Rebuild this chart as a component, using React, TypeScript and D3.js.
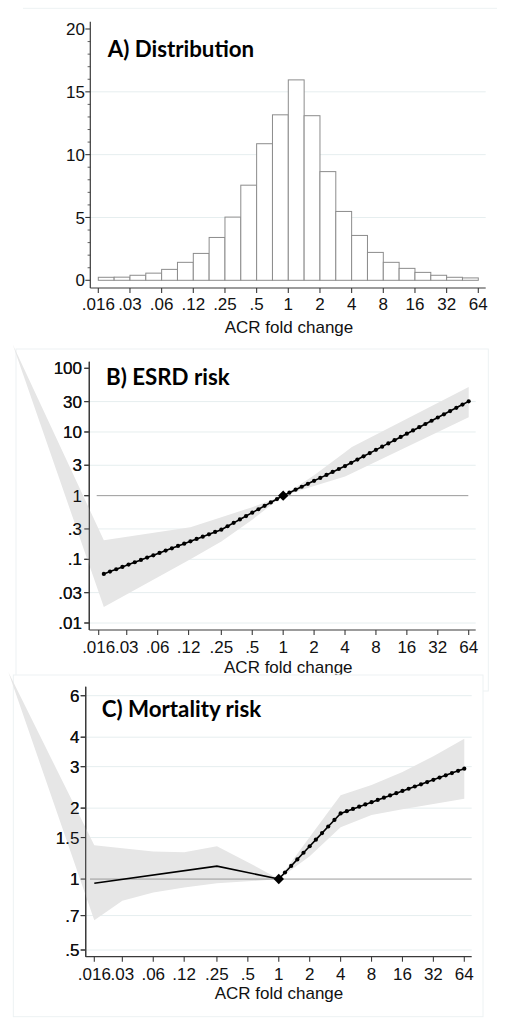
import React from "react";
import * as d3 from "d3";

// ---------- shared axis labels ----------
const xTickLabels = [".016", ".03", ".06", ".12", ".25", ".5", "1", "2", "4", "8", "16", "32", "64"];
const xTicksPow2 = [1 / 64, 1 / 32, 1 / 16, 1 / 8, 1 / 4, 1 / 2, 1, 2, 4, 8, 16, 32, 64];
const xTicksDec = [0.016, 0.03, 0.06, 0.12, 0.25, 0.5, 1, 2, 4, 8, 16, 32, 64];

// ---------- Panel A: distribution ----------
const binEdgesLog2 = [-6, -5.5, -5, -4.5, -4, -3.5, -3, -2.5, -2, -1.5, -1, -0.5, 0, 0.5, 1, 1.5, 2, 2.5, 3, 3.5, 4, 4.5, 5, 5.5, 6];
const distPct = [0.24, 0.25, 0.4, 0.57, 0.87, 1.43, 2.14, 3.41, 5.03, 7.57, 10.87, 13.17, 15.95, 13.1, 8.65, 5.48, 3.57, 2.22, 1.43, 0.95, 0.63, 0.4, 0.24, 0.19];
const yTicksA = [0, 5, 10, 15, 20];
const yLabelsA = ["0", "5", "10", "15", "20"];

// ---------- Panel B: ESRD risk ----------
const yTicksB = [0.01, 0.03, 0.1, 0.3, 1, 3, 10, 30, 100];
const yLabelsB = [".01", ".03", ".1", ".3", "1", "3", "10", "30", "100"];
const esrdX = [
  0.01795, 0.02062, 0.02368, 0.0272, 0.03125, 0.0359, 0.04123, 0.04737, 0.05441, 0.0625,
  0.0718, 0.0825, 0.0947, 0.1088, 0.125, 0.1436, 0.1649, 0.1895, 0.2176, 0.25,
  0.2872, 0.3299, 0.3789, 0.4353, 0.5, 0.5743, 0.6598, 0.7579, 0.8706, 1,
  1.149, 1.32, 1.516, 1.741, 2, 2.297, 2.639, 3.031, 3.482, 4,
  4.595, 5.278, 6.063, 6.964, 8, 9.19, 10.56, 12.13, 13.93, 16,
  18.38, 21.11, 24.25, 27.86, 32, 36.76, 42.22, 48.5, 55.72, 64,
];
const esrdHR = [
  0.059, 0.0641, 0.0698, 0.0759, 0.0826, 0.0899, 0.0978, 0.1064, 0.1157, 0.1259,
  0.137, 0.149, 0.1622, 0.1764, 0.1919, 0.2088, 0.2272, 0.2471, 0.2689, 0.2924,
  0.3307, 0.3739, 0.4228, 0.4781, 0.5408, 0.6115, 0.6915, 0.7819, 0.8842, 1,
  1.113, 1.239, 1.379, 1.535, 1.708, 1.901, 2.116, 2.355, 2.621, 2.917,
  3.281, 3.687, 4.145, 4.659, 5.236, 5.886, 6.616, 7.436, 8.36, 9.397,
  10.56, 11.88, 13.35, 15.01, 16.87, 18.96, 21.31, 23.95, 26.93, 30.27,
];
const esrdCiX = [0.00233, 0.01795, 0.125, 0.25, 0.5, 1, 2, 4, 4.67, 64];
const esrdCiLo = [237, 0.0178, 0.1, 0.19, 0.42, 1, 1.42, 2.0, 2.25, 17.1];
const esrdCiHi = [237, 0.2, 0.318, 0.456, 0.66, 1, 2.1, 4.82, 5.8, 50.7];

// ---------- Panel C: mortality risk ----------
const yTicksC = [0.5, 0.7, 1, 1.5, 2, 3, 4, 6];
const yLabelsC = [".5", ".7", "1", "1.5", "2", "3", "4", "6"];
const mortLowX = [0.016, 0.25, 1];
const mortLowHR = [0.96, 1.135, 1];
const mortX = [
  1, 1.149, 1.32, 1.516, 1.741, 2, 2.297, 2.639, 3.031, 3.482, 4,
  4.595, 5.278, 6.063, 6.964, 8, 9.19, 10.56, 12.13, 13.93, 16,
  18.38, 21.11, 24.25, 27.86, 32, 36.76, 42.22, 48.5, 55.72, 64,
];
const mortHR = [
  1, 1.066, 1.137, 1.212, 1.293, 1.378, 1.47, 1.567, 1.671, 1.782, 1.9,
  1.942, 1.985, 2.029, 2.074, 2.12, 2.167, 2.215, 2.264, 2.314, 2.365,
  2.417, 2.471, 2.525, 2.581, 2.638, 2.697, 2.756, 2.817, 2.88, 2.94,
];
const mortCiX = [0.00233, 0.016, 0.03, 0.06, 0.12, 0.25, 0.5, 1, 2, 4, 8, 16, 32, 64];
const mortCiLo = [7.56, 0.668, 0.81, 0.878, 0.922, 0.959, 0.978, 1, 1.25, 1.66, 1.87, 1.98, 2.08, 2.19];
const mortCiHi = [7.56, 1.39, 1.35, 1.31, 1.3, 1.377, 1.18, 1, 1.51, 2.27, 2.51, 2.85, 3.32, 3.94];

// ---------- styles ----------
const FONT = "'Liberation Sans', Arial, sans-serif";
const TITLE_FONT = "Lato, 'Open Sans', sans-serif";
const AXIS = "#3a3a3a";
const GRID = "#e6eeef";
const FRAME = "#edf2f3";
const CI = "#e6e6e6";
const REF = "#9a9a9a";

type Scale = (v: number) => number;

function YAxis({ scale, ticks, labels, x, y0, y1, labelRight, grid, gridX1, skipGrid }: {
  scale: Scale; ticks: number[]; labels: string[]; x: number; y0: number; y1: number;
  labelRight: number; grid?: boolean; gridX1?: number; skipGrid?: number[];
}) {
  return (
    <g>
      {grid &&
        ticks
          .filter((t) => !(skipGrid || []).includes(t))
          .map((t, i) => (
            <line key={"g" + i} x1={x} x2={gridX1} y1={scale(t)} y2={scale(t)} stroke={GRID} strokeWidth={1} />
          ))}
      <line x1={x} x2={x} y1={y0} y2={y1} stroke={AXIS} strokeWidth={1.2} />
      {ticks.map((t, i) => (
        <g key={i}>
          <line x1={x - 5} x2={x} y1={scale(t)} y2={scale(t)} stroke={AXIS} strokeWidth={1.1} />
          <text x={labelRight} y={scale(t)} dy="0.36em" textAnchor="end" fontFamily={FONT} fontSize={17} fill="#111">
            {labels[i]}
          </text>
        </g>
      ))}
    </g>
  );
}

function XAxis({ scale, ticks, y, x0, x1, labelY, titleX, titleY }: {
  scale: Scale; ticks: number[]; y: number; x0: number; x1: number; labelY: number; titleX: number; titleY: number;
}) {
  return (
    <g>
      <line x1={x0} x2={x1} y1={y} y2={y} stroke={AXIS} strokeWidth={1.2} />
      {ticks.map((t, i) => (
        <g key={i}>
          <line x1={scale(t)} x2={scale(t)} y1={y} y2={y + 5} stroke={AXIS} strokeWidth={1.1} />
          <text x={scale(t)} y={labelY} textAnchor="middle" fontFamily={FONT} fontSize={17} fill="#111">
            {xTickLabels[i]}
          </text>
        </g>
      ))}
      <text x={titleX} y={titleY} textAnchor="middle" fontFamily={FONT} fontSize={17} fill="#111">
        ACR fold change
      </text>
    </g>
  );
}

function Diamond({ cx, cy }: { cx: number; cy: number }) {
  const r = 5.2;
  return <path d={`M${cx},${cy - r}L${cx + r},${cy}L${cx},${cy + r}L${cx - r},${cy}Z`} fill="#000" />;
}

export default function App() {
  // ---- Panel A ----
  const xA = d3.scaleLog().base(2).domain([1 / 64, 64]).range([98.3, 478.3]);
  const yA = d3.scaleLinear().domain([0, 20]).range([280.3, 29]);
  const minorA = d3.range(0, 21).filter((v) => v % 5 !== 0);

  // ---- Panel B ----
  const xB = d3.scaleLog().domain([0.016, 64]).range([98.7, 468.7]);
  const yB = d3.scaleLog().domain([0.01, 100]).range([623, 368.3]);
  const bandB = d3
    .area<number>()
    .x((_, i) => xB(esrdCiX[i]))
    .y0((_, i) => yB(esrdCiLo[i]))
    .y1((_, i) => yB(esrdCiHi[i]));
  const lineB = d3
    .line<number>()
    .x((_, i) => xB(esrdX[i]))
    .y((d) => yB(d));

  // ---- Panel C ----
  const xC = d3.scaleLog().domain([0.016, 64]).range([94.3, 464.3]);
  const yC = d3.scaleLog().domain([0.5, 6]).range([950, 695.7]);
  const bandC = d3
    .area<number>()
    .x((_, i) => xC(mortCiX[i]))
    .y0((_, i) => yC(mortCiLo[i]))
    .y1((_, i) => yC(mortCiHi[i]));
  const lineCLow = d3
    .line<number>()
    .x((_, i) => xC(mortLowX[i]))
    .y((d) => yC(d));
  const lineC = d3
    .line<number>()
    .x((_, i) => xC(mortX[i]))
    .y((d) => yC(d));

  return (
    <svg width={507} height={1027} style={{ position: "absolute", left: 0, top: 0, background: "#fff" }}>
      <rect x={0} y={0} width={507} height={1027} fill="#fff" />

      {/* ================= Panel A ================= */}
      <line x1={23} x2={497} y1={8.3} y2={8.3} stroke={FRAME} strokeWidth={1} />
      <YAxis scale={yA} ticks={yTicksA} labels={yLabelsA} x={90.3} y0={21.7} y1={288} labelRight={85}
        grid gridX1={485.7} skipGrid={[0, 20]} />
      {minorA.map((v) => (
        <line key={v} x1={87.6} x2={90.3} y1={yA(v)} y2={yA(v)} stroke={AXIS} strokeWidth={0.8} />
      ))}
      {distPct.map((v, i) => {
        const x0 = xA(2 ** binEdgesLog2[i]);
        const x1 = xA(2 ** binEdgesLog2[i + 1]);
        return (
          <rect key={i} x={x0} y={yA(v)} width={x1 - x0} height={yA(0) - yA(v)} fill="#fff" stroke="#8c8c8c" strokeWidth={1} />
        );
      })}
      <XAxis scale={xA} ticks={xTicksPow2} y={288} x0={90.3} x1={485.7} labelY={310} titleX={289} titleY={333} />
      <text x={107.7} y={57.3} fontFamily={TITLE_FONT} fontWeight={700} fontSize={22.3} fill="#000">
        A) Distribution
      </text>

      {/* ================= Panel B ================= */}
      <rect x={16} y={349} width={472.3} height={342} fill="#fff" stroke={FRAME} strokeWidth={1} />
      <YAxis scale={yB} ticks={yTicksB} labels={yLabelsB} x={89.3} y0={361.7} y1={630} labelRight={82}
        grid gridX1={475.7} skipGrid={[1, 100]} />
      <path d={bandB(esrdCiX) || ""} fill={CI} />
      <line x1={96.7} x2={468.3} y1={yB(1)} y2={yB(1)} stroke={REF} strokeWidth={1} />
      <YAxis scale={yB} ticks={yTicksB} labels={yLabelsB} x={89.3} y0={361.7} y1={630} labelRight={82} />
      <path d={lineB(esrdHR) || ""} fill="none" stroke="#000" strokeWidth={1.6} />
      {esrdHR.map((v, i) =>
        esrdX[i] === 1 ? null : <circle key={i} cx={xB(esrdX[i])} cy={yB(v)} r={2.1} fill="#000" />
      )}
      <Diamond cx={xB(1)} cy={yB(1)} />
      <XAxis scale={xB} ticks={xTicksDec} y={630} x0={89.3} x1={475.7} labelY={653.3} titleX={288.3} titleY={672.7} />
      <text x={106} y={385} fontFamily={TITLE_FONT} fontWeight={700} fontSize={22.3} fill="#000">
        B) ESRD risk
      </text>

      {/* ================= Panel C ================= */}
      <rect x={13.3} y={675} width={469.7} height={341.7} fill="#fff" stroke={FRAME} strokeWidth={1} />
      <YAxis scale={yC} ticks={yTicksC} labels={yLabelsC} x={85.7} y0={686.7} y1={956.7} labelRight={79.5}
        grid gridX1={471.7} skipGrid={[1]} />
      <path d={bandC(mortCiX) || ""} fill={CI} />
      <line x1={90} x2={471.7} y1={yC(1)} y2={yC(1)} stroke={REF} strokeWidth={1} />
      <YAxis scale={yC} ticks={yTicksC} labels={yLabelsC} x={85.7} y0={686.7} y1={956.7} labelRight={79.5} />
      <path d={lineCLow(mortLowHR) || ""} fill="none" stroke="#000" strokeWidth={1.6} />
      <path d={lineC(mortHR) || ""} fill="none" stroke="#000" strokeWidth={1.6} />
      {mortHR.map((v, i) =>
        mortX[i] === 1 ? null : <circle key={i} cx={xC(mortX[i])} cy={yC(v)} r={2.1} fill="#000" />
      )}
      <Diamond cx={xC(1)} cy={yC(1)} />
      <XAxis scale={xC} ticks={xTicksDec} y={956.7} x0={85.7} x1={471.7} labelY={980} titleX={279} titleY={999.3} />
      <text x={101.7} y={716.7} fontFamily={TITLE_FONT} fontWeight={700} fontSize={22.3} fill="#000">
        C) Mortality risk
      </text>
    </svg>
  );
}
